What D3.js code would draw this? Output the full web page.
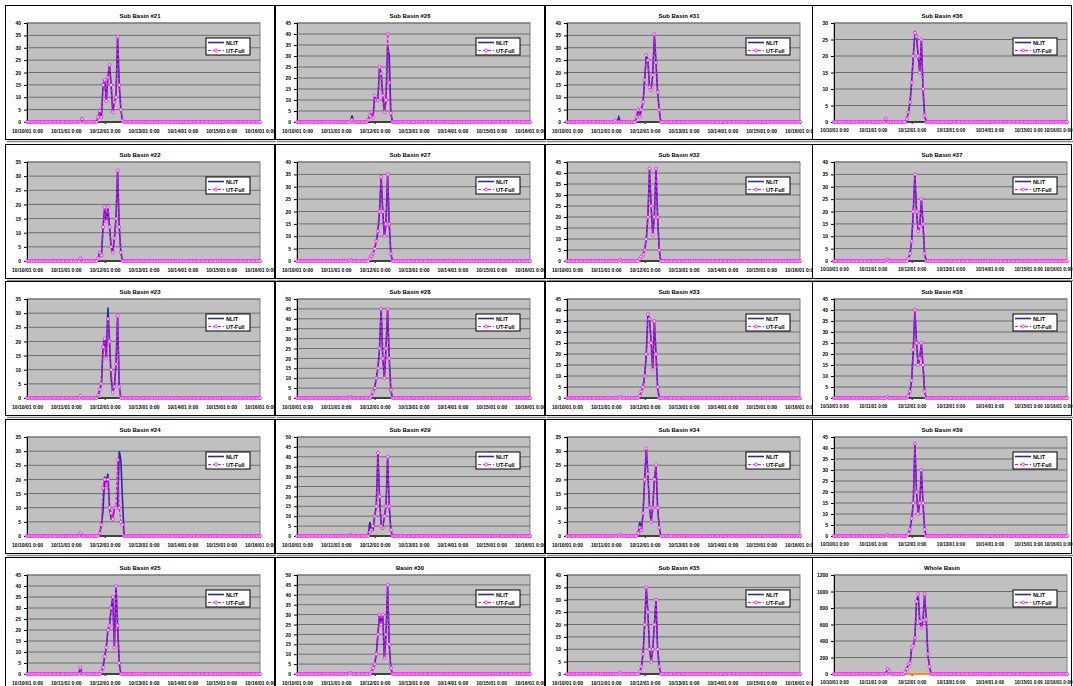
<!DOCTYPE html>
<html>
<head>
<meta charset="utf-8">
<script src="https://cdn.jsdelivr.net/npm/d3@7"></script>
<style>
  body { margin: 0; background: #fff; }
  text { font-family: "Liberation Sans", Arial, sans-serif; }
</style>
</head>
<body>
<div id="chart"></div>
<script>
// hourly steps, 6 days
var nSteps = 145;
var tickLabels = ["10/10/01 0:00", "10/11/01 0:00", "10/12/01 0:00", "10/13/01 0:00",
                  "10/14/01 0:00", "10/15/01 0:00", "10/16/01 0:00"];

// panels listed column by column
var panelTitles = ["Sub Basin #21", "Sub Basin #22", "Sub Basin #23", "Sub Basin #24", "Sub Basin #25",
                   "Sub Basin #26", "Sub Basin #27", "Sub Basin #28", "Sub Basin #29", "Basin #30",
                   "Sub Basin #31", "Sub Basin #32", "Sub Basin #33", "Sub Basin #34", "Sub Basin #35",
                   "Sub Basin #36", "Sub Basin #37", "Sub Basin #38", "Sub Basin #39", "Whole Basin"];
var yMax  = [40, 35, 35, 35, 45,  45, 40, 50, 50, 50,  40, 45, 45, 35, 40,  30, 40, 45, 45, 1200];
var yStep = [5, 5, 5, 5, 5,  5, 5, 5, 5, 5,  5, 5, 5, 5, 5,  5, 5, 5, 5, 200];

// UT-Full: first index of the storm and the hourly values from there
var utStart = [43, 44, 44, 44, 46,  44, 45, 46, 45, 46,  43, 45, 45, 44, 45,  45, 46, 46, 46, 44];
var utValues = [
  [0, 2, 4.5, 2, 15, 17, 8.5, 18, 23, 15, 4, 8, 10, 34.5, 15, 5, 0.5],
  [1, 3, 2, 12, 19, 14, 19, 12, 5, 3, 8, 15, 32, 12, 3],
  [1, 3, 5, 18, 21, 14, 28, 20, 10, 2, 4, 12, 29, 4],
  [0, 1, 4, 17, 20, 17, 20, 10, 8, 6, 10, 10, 27, 10, 5, 4],
  [1, 3, 8, 12, 20, 22, 30, 35, 12, 40, 22, 5],
  [1, 3, 4.5, 2, 12, 10, 10, 25, 22, 12, 4.5, 10, 40, 18, 4],
  [1, 2, 3, 5, 8, 12, 20, 34, 20, 10, 15, 35, 15, 3],
  [1, 3, 5, 10, 15, 25, 45, 20, 10, 25, 45, 20, 4],
  [2, 3, 5, 10, 15, 42, 20, 5, 4, 10, 15, 40, 15, 3],
  [1, 3, 5, 10, 20, 30, 25, 30, 8, 20, 45, 15, 3],
  [2, 5, 2, 5, 8, 17, 27, 25, 14, 13, 19, 35.5, 24, 12, 5],
  [1, 2, 3, 5, 10, 20, 42, 25, 12, 20, 42, 20, 5],
  [1, 3, 5, 10, 20, 38, 36, 25, 13, 35, 20, 5],
  [1, 3, 2, 8, 20, 31, 22, 10, 5, 10, 20, 25, 10, 3],
  [1, 3, 8, 20, 35, 25, 10, 5, 10, 20, 30, 10, 3],
  [1, 3, 6, 12, 20, 27, 26, 20, 15, 25, 10, 2],
  [1, 3, 8, 20, 35, 20, 12, 14, 25, 15, 3],
  [1, 3, 8, 22, 40, 25, 15, 18, 25, 15, 3],
  [1, 3, 8, 15, 42, 20, 10, 15, 30, 15, 3],
  [20, 60, 120, 130, 320, 340, 440, 880, 970, 640, 560, 650, 970, 660, 240, 90]
];
// NLIT hours that differ from UT-Full: [hour, value]
var nlitDiffs = [
  [], [], [[50, 32], [52, 7]],
  [[47, 9], [48, 21], [49, 19], [50, 22], [52, 6], [56, 10], [57, 30], [58, 27], [59, 13]],
  [], [[34, 3], [56, 35], [57, 30]], [], [], [[45, 7], [47, 3]], [],
  [[32, 2]], [], [], [[45, 5]], [],
  [], [], [], [], [[52, 960]]
];
// small UT-Full bumps before the storm: [hour, value]
var utBumps = [
  [[34, 1.3]], [[33, 1]], [[33, 0.8]], [[33, 1]], [[33, 3]],
  [[34, 1]], [[33, 0.5]], [[33, 0.5]], [[33, 0.5]], [[33, 0.5]],
  [[30, 0.5]], [[33, 0.5]], [[33, 0.5]], [[33, 0.5]], [[33, 0.5]],
  [[32, 1]], [[33, 0.5]], [[33, 0.5]], [[33, 0.5]], [[33, 60], [34, 40]]
];
// hours covered by the flat zero series under the storm
var baseSpan = [[45, 59], [45, 58], [45, 58], [45, 59], [46, 58], [45, 59], [46, 59], [46, 59], [45, 58], [46, 58],
                [44, 57], [45, 57], [45, 56], [44, 57], [45, 57], [45, 56], [46, 56], [46, 56], [46, 56], [33, 60]];

var colLeft = [5, 275, 545, 812], colWidth = [270, 270, 268, 260];
var rowTop = [5, 144, 281, 419, 557], panelH = 134;
var plotL = 22, plotW = 233, plotT = 18, plotB = 117;

var svg = d3.select("#chart").append("svg")
    .attr("width", 1073).attr("height", 686)
    .style("display", "block");
svg.append("rect").attr("width", 1073).attr("height", 686).attr("fill", "#fff");

function buildSeries(i) {
    var ut = d3.range(nSteps).map(function () { return 0; });
    utBumps[i].forEach(function (b) { ut[b[0]] = b[1]; });
    utValues[i].forEach(function (v, k) { ut[utStart[i] + k] = v; });
    var nlit = ut.slice();
    nlitDiffs[i].forEach(function (d) { nlit[d[0]] = d[1]; });
    return {ut: ut, nlit: nlit};
}

panelTitles.forEach(function (title, i) {
    var col = Math.floor(i / 5), row = i % 5;
    var w = colWidth[col];
    var g = svg.append("g").attr("transform", "translate(" + colLeft[col] + "," + rowTop[row] + ")");
    var s = buildSeries(i);

    g.append("rect").attr("x", 0.5).attr("y", 0.5).attr("width", w - 1).attr("height", panelH)
        .attr("fill", "#fff").attr("stroke", "#000").attr("stroke-width", 1);
    g.append("line").attr("x1", 2).attr("x2", w + 1).attr("y1", panelH + 2.5).attr("y2", panelH + 2.5)
        .attr("stroke", "#888").attr("stroke-width", 1.5);

    g.append("text").attr("x", w / 2).attr("y", 13).attr("text-anchor", "middle")
        .attr("font-size", 6).attr("font-weight", "bold").text(title);

    var x = d3.scaleLinear().domain([0, nSteps - 1]).range([plotL, plotL + plotW]);
    var y = d3.scaleLinear().domain([0, yMax[i]]).range([plotB, plotT]);
    var yTicks = d3.range(0, yMax[i] + yStep[i] / 2, yStep[i]);

    g.append("rect").attr("x", plotL).attr("y", plotT).attr("width", plotW).attr("height", plotB - plotT)
        .attr("fill", "#c0c0c0").attr("stroke", "#808080");
    g.selectAll(".grid").data(yTicks.slice(1)).enter().append("line")
        .attr("x1", plotL).attr("x2", plotL + plotW)
        .attr("y1", function (d) { return y(d); }).attr("y2", function (d) { return y(d); })
        .attr("stroke", "#6e6e6e").attr("stroke-width", 1);

    var yAxis = g.append("g").attr("transform", "translate(" + plotL + ",0)")
        .call(d3.axisLeft(y).tickValues(yTicks).tickSize(3).tickPadding(3).tickFormat(d3.format("d")));
    yAxis.selectAll("text").attr("font-size", 5).attr("font-weight", "bold")
        .style("font-family", "Liberation Sans, Arial, sans-serif");
    yAxis.select(".domain").attr("stroke", "#000");

    var xTickIdx = tickLabels.map(function (t, k) { return k * 24; });
    var xAxis = g.append("g").attr("transform", "translate(0," + plotB + ")")
        .call(d3.axisBottom(x).tickValues(xTickIdx).tickSize(2).tickPadding(5)
            .tickFormat(function (d, k) { return tickLabels[k]; }));
    xAxis.selectAll("text").attr("font-size", col === 3 ? 4.6 : 5).attr("font-weight", "bold")
        .style("font-family", "Liberation Sans, Arial, sans-serif");
    if (col === 3) {
        // keep the last label inside the page edge
        xAxis.selectAll(".tick").filter(function (d, k) { return k === tickLabels.length - 1; })
            .select("text").attr("text-anchor", "end").attr("x", 5);
    }
    xAxis.select(".domain").attr("stroke", "#000");

    // flat zero series under the storm
    var span = baseSpan[i];
    g.append("line").attr("x1", x(span[0])).attr("x2", x(span[1]))
        .attr("y1", y(0)).attr("y2", y(0))
        .attr("stroke", i === 19 ? "#ff8c1a" : "#404040").attr("stroke-width", 2);

    var line = d3.line().x(function (d, k) { return x(k); }).y(function (d) { return y(d); });
    g.append("path").attr("d", line(s.nlit)).attr("fill", "none")
        .attr("stroke", "#2b2b9c").attr("stroke-width", 1.6);
    g.append("path").attr("d", line(s.ut)).attr("fill", "none")
        .attr("stroke", "#ff00ff").attr("stroke-width", 1.2).attr("stroke-dasharray", "3,2");
    g.selectAll(".mk").data(s.ut).enter().append("circle")
        .attr("cx", function (d, k) { return x(k); }).attr("cy", function (d) { return y(d); })
        .attr("r", 1.5).attr("fill", "#fff").attr("stroke", "#ff00ff").attr("stroke-width", 0.8);

    // legend
    var lg = g.append("g").attr("transform", "translate(" + (plotL + 179) + ",33)");
    lg.append("rect").attr("width", 44).attr("height", 17).attr("fill", "#fff").attr("stroke", "#000");
    lg.append("line").attr("x1", 2).attr("x2", 18).attr("y1", 4.5).attr("y2", 4.5)
        .attr("stroke", "#2b2b9c").attr("stroke-width", 1.6);
    lg.append("text").attr("x", 20).attr("y", 6.5).attr("font-size", 5.5).attr("font-weight", "bold").text("NLIT");
    lg.append("line").attr("x1", 2).attr("x2", 18).attr("y1", 12.5).attr("y2", 12.5)
        .attr("stroke", "#ff00ff").attr("stroke-width", 1.2).attr("stroke-dasharray", "3,2");
    lg.append("circle").attr("cx", 10).attr("cy", 12.5).attr("r", 1.5)
        .attr("fill", "#fff").attr("stroke", "#ff00ff").attr("stroke-width", 0.8);
    lg.append("text").attr("x", 20).attr("y", 14.5).attr("font-size", 5.5).attr("font-weight", "bold").text("UT-Full");
});
</script>
</body>
</html>
